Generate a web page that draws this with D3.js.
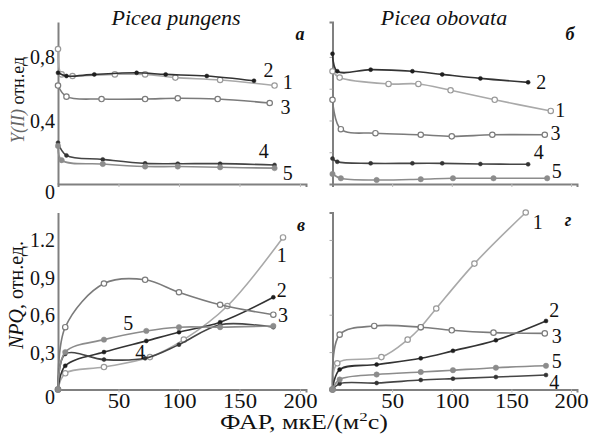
<!DOCTYPE html>
<html>
<head>
<meta charset="utf-8">
<script src="https://cdn.jsdelivr.net/npm/d3@7"></script>
<style>
  body { margin: 0; background: #fff; }
  svg { display: block; font-family: "Liberation Serif", "DejaVu Serif", serif; }
</style>
</head>
<body>
<div id="chart"></div>
<script>
// Y(II), Picea pungens (panel а)
const pungensY1 = [[0, 0.85], [3, 0.69], [12, 0.68], [47, 0.69], [72, 0.69], [97, 0.67], [134, 0.655], [179, 0.62]];
const pungensY2 = [[0, 0.70], [7, 0.68], [30, 0.69], [65, 0.70], [89, 0.69], [123, 0.68], [162, 0.65]];
const pungensY3 = [[0, 0.62], [7, 0.55], [36, 0.535], [72, 0.535], [99, 0.54], [132, 0.535], [175, 0.51]];
const pungensY4 = [[0, 0.26], [7, 0.18], [37, 0.155], [72, 0.13], [99, 0.128], [134, 0.128], [179, 0.12]];
const pungensY5 = [[0, 0.24], [3, 0.15], [37, 0.126], [72, 0.11], [99, 0.11], [134, 0.105], [179, 0.10]];

// Y(II), Picea obovata (panel б)
const obovataY1 = [[0, 0.71], [6, 0.67], [47, 0.63], [72, 0.63], [99, 0.59], [136, 0.53], [183, 0.46]];
const obovataY2 = [[0, 0.82], [4, 0.71], [32, 0.72], [67, 0.71], [92, 0.69], [124, 0.665], [164, 0.64]];
const obovataY3 = [[0, 0.53], [7, 0.345], [36, 0.32], [74, 0.31], [100, 0.30], [134, 0.31], [178, 0.31]];
const obovataY4 = [[0, 0.16], [4, 0.14], [32, 0.13], [67, 0.13], [92, 0.13], [124, 0.126], [164, 0.124]];
const obovataY5 = [[0, 0.063], [7, 0.036], [37, 0.025], [74, 0.03], [101, 0.036], [135, 0.036], [180, 0.036]];

// NPQ, Picea pungens (panel в)
const pungensN1 = [[0, 0], [6, 0.13], [38, 0.18], [76, 0.26], [104, 0.40], [140, 0.67], [186, 1.22]];
const pungensN2 = [[0, 0], [6, 0.19], [38, 0.30], [73, 0.39], [100, 0.46], [134, 0.54], [178, 0.74]];
const pungensN3 = [[0, 0], [6, 0.50], [38, 0.85], [72, 0.88], [100, 0.78], [134, 0.68], [178, 0.60]];
const pungensN4 = [[0, 0], [6, 0.285], [38, 0.24], [72, 0.25], [100, 0.36], [134, 0.52], [178, 0.50]];
const pungensN5 = [[0, 0], [6, 0.30], [38, 0.40], [73, 0.47], [100, 0.50], [134, 0.50], [178, 0.51]];

// NPQ, Picea obovata (panel г)
const obovataN1 = [[0, 0], [4, 0.21], [41, 0.26], [63, 0.40], [74, 0.50], [87, 0.65], [119, 1.01], [162, 1.42]];
const obovataN2 = [[0, 0], [6, 0.16], [37, 0.20], [74, 0.25], [101, 0.31], [137, 0.395], [179, 0.55]];
const obovataN3 = [[0, 0], [6, 0.44], [35, 0.51], [74, 0.50], [100, 0.475], [135, 0.456], [178, 0.45]];
const obovataN4 = [[0, 0], [6, 0.047], [37, 0.052], [74, 0.076], [101, 0.087], [137, 0.10], [179, 0.116]];
const obovataN5 = [[0, 0], [6, 0.08], [37, 0.12], [74, 0.14], [101, 0.155], [137, 0.175], [179, 0.19]];

// curve number labels: [text, x, y] in data units
const labelsA = [["2", 174, 0.72], ["1", 190, 0.64], ["3", 188, 0.485], ["4", 170, 0.21], ["5", 190, 0.07]];
const labelsB = [["2", 175, 0.645], ["1", 191, 0.466], ["3", 187, 0.32], ["4", 173, 0.20], ["5", 188, 0.084]];
const labelsV = [["1", 185, 1.08], ["2", 185, 0.80], ["3", 186, 0.60], ["5", 58, 0.53], ["4", 68, 0.30]];
const labelsG = [["1", 172, 1.34], ["2", 186, 0.64], ["3", 188, 0.43], ["5", 188, 0.23], ["4", 186, 0.06]];

const xTicks = [50, 100, 150, 200];
const yiiTicks = [0, 0.4, 0.8];
const yiiTickLabels = ["0", "0,4", "0,8"];
const npqTicks = [0, 0.3, 0.6, 0.9, 1.2];
const npqTickLabels = ["0", "0,3", "0,6", "0,9", "1.2"];

const W = 589, H = 435;
const svg = d3.select("#chart").append("svg").attr("width", W).attr("height", H);

// series styles 1..5
const styles = [
    { line: "#a9a9a9", mark: "open", color: "#9a9a9a" },
    { line: "#333333", mark: "dot", color: "#1e1e1e" },
    { line: "#7b7b7b", mark: "open", color: "#7b7b7b" },
    { line: "#454545", mark: "dot", color: "#333333" },
    { line: "#8c8c8c", mark: "fill", color: "#8c8c8c" }
];

const axisColor = "#808080";

function drawPanel(p) {
    const x = d3.scaleLinear().domain([0, 205]).range(p.xRange);
    const y = d3.scaleLinear().domain(p.yDomain).range(p.yRange);
    const g = svg.append("g");

    const yAxis = g.append("g").attr("transform", `translate(${p.xRange[0]},0)`)
        .call(d3.axisLeft(y).tickValues(p.yTicks).tickSize(p.yLabels ? 0 : 3)
            .tickFormat((d, i) => p.yLabels ? p.yLabels[i] : ""));
    yAxis.attr("font-family", null);
    yAxis.select(".domain").attr("stroke", axisColor).attr("stroke-width", 2);
    yAxis.selectAll(".tick line").attr("stroke", "#aaa");
    yAxis.selectAll("text").attr("font-size", 20).attr("fill", "#111").attr("x", -3)
        .attr("dy", d => d === 0 ? "0.7em" : "0.35em");

    const xAxis = g.append("g").attr("transform", `translate(0,${p.yRange[0]})`)
        .call(d3.axisBottom(x).tickValues(xTicks).tickSize(3)
            .tickFormat(d => p.xLabels ? d : ""));
    xAxis.attr("font-family", null);
    xAxis.select(".domain").attr("stroke", axisColor).attr("stroke-width", 2);
    xAxis.selectAll(".tick line").attr("stroke", "#bbb");
    xAxis.selectAll("text").attr("font-size", 21).attr("fill", "#111")
        .attr("dy", "0.6em").attr("transform", "scale(1.08,1)");

    const line = d3.line().x(d => x(d[0])).y(d => y(d[1])).curve(d3.curveCatmullRom.alpha(0.5));

    p.series.forEach((s, i) => {
        const st = styles[i];
        g.append("path").datum(s)
            .attr("fill", "none").attr("stroke", st.line).attr("stroke-width", 1.6)
            .attr("d", line);
        g.selectAll(null).data(s).enter().append("circle")
            .attr("cx", d => x(d[0])).attr("cy", d => y(d[1]))
            .attr("r", st.mark === "dot" ? 2 : 2.7)
            .attr("fill", st.mark === "open" ? "#fff" : st.color)
            .attr("stroke", st.color).attr("stroke-width", st.mark === "open" ? 1.2 : 0.5);
    });

    g.selectAll(null).data(p.labels).enter().append("text")
        .attr("x", d => x(d[1])).attr("y", d => y(d[2]))
        .attr("text-anchor", "middle").attr("dominant-baseline", "central")
        .attr("font-size", 20).attr("fill", "#111")
        .text(d => d[0]);

    svg.append("text").attr("x", p.letter[0]).attr("y", p.letter[1])
        .attr("text-anchor", "middle").attr("font-size", 18)
        .attr("font-style", "italic").attr("font-weight", "bold").attr("fill", "#111")
        .text(p.letter[2]);
}

drawPanel({
    series: [pungensY1, pungensY2, pungensY3, pungensY4, pungensY5],
    xRange: [58, 306], yDomain: [0, 1.02], yRange: [184, 22],
    yTicks: yiiTicks, yLabels: yiiTickLabels, xLabels: false,
    labels: labelsA, letter: [300, 40, "а"]
});
drawPanel({
    series: [obovataY1, obovataY2, obovataY3, obovataY4, obovataY5],
    xRange: [332.5, 577], yDomain: [0, 1.02], yRange: [184, 22],
    yTicks: [0.2, 0.4, 0.6, 0.8], yLabels: null, xLabels: false,
    labels: labelsB, letter: [570, 40, "б"]
});
drawPanel({
    series: [pungensN1, pungensN2, pungensN3, pungensN4, pungensN5],
    xRange: [58, 306], yDomain: [0, 1.42], yRange: [389.5, 212.5],
    yTicks: npqTicks, yLabels: npqTickLabels, xLabels: true,
    labels: labelsV, letter: [301, 231, "в"]
});
drawPanel({
    series: [obovataN1, obovataN2, obovataN3, obovataN4, obovataN5],
    xRange: [332.5, 577], yDomain: [0, 1.42], yRange: [389.5, 212.5],
    yTicks: [0.3, 0.6, 0.9, 1.2], yLabels: null, xLabels: true,
    labels: labelsG, letter: [568, 226, "г"]
});

// titles
svg.append("text").attr("x", 176).attr("y", 25).attr("text-anchor", "middle")
    .attr("font-size", 22).attr("font-style", "italic").attr("fill", "#111").text("Picea pungens");
svg.append("text").attr("x", 444).attr("y", 25).attr("text-anchor", "middle")
    .attr("font-size", 22).attr("font-style", "italic").attr("fill", "#111").text("Picea obovata");

// axis titles
const yTop = svg.append("text").attr("transform", "translate(24,100) rotate(-90)")
    .attr("text-anchor", "middle").attr("font-size", 18).attr("fill", "#111");
yTop.append("tspan").attr("font-style", "italic").attr("fill", "#666").text("Y(II)");
yTop.append("tspan").text("  отн.ед");

const yBot = svg.append("text").attr("transform", "translate(23,295) rotate(-90)")
    .attr("text-anchor", "middle").attr("font-size", 20).attr("fill", "#111");
yBot.append("tspan").attr("font-style", "italic").text("NPQ");
yBot.append("tspan").text(", отн.ед.");

const xLab = svg.append("text").attr("transform", "translate(304,429) scale(1.3,1)")
    .attr("text-anchor", "middle").attr("font-size", 20).attr("fill", "#111");
xLab.append("tspan").text("ФАР, мкЕ/(м");
xLab.append("tspan").attr("font-size", 13).attr("dy", -8).text("2");
xLab.append("tspan").attr("dy", 8).text("с)");
</script>
</body>
</html>
